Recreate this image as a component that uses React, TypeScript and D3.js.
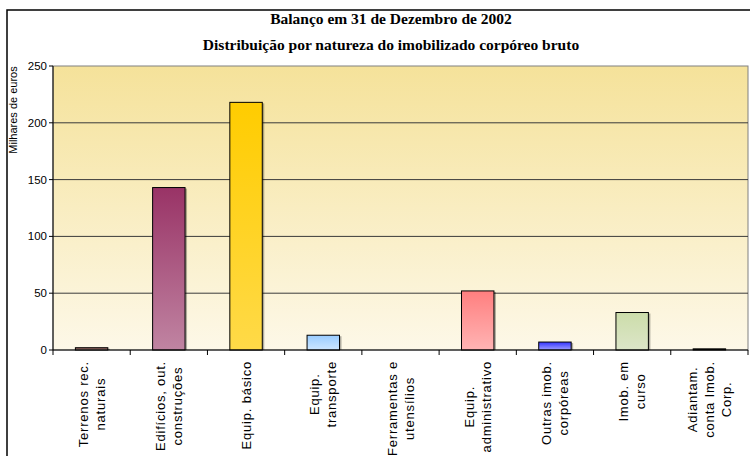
import React from "react";
import * as d3 from "d3";

const categories: string[][] = [
  ["Terrenos rec.", "naturais"],
  ["Edifícios, out.", "construções"],
  ["Equip. básico"],
  ["Equip.", "transporte"],
  ["Ferramentas e", "utensílios"],
  ["Equip.", "administrativo"],
  ["Outras imob.", "corpóreas"],
  ["Imob. em", "curso"],
  ["Adiantam.", "conta Imob.", "Corp."],
];
const values: number[] = [2, 143, 218, 13, 0, 52, 7, 33, 1];
const topColors: string[] = ["#5a1a1a", "#993366", "#FFCC00", "#99CCFF", "#999999", "#FF7F7F", "#3333FF", "#CCDDAA", "#111111"];
const bottomColors: string[] = ["#f5e9e0", "#C084A2", "#FFDA48", "#CDE6FF", "#cccccc", "#FFB4B4", "#A0A0FF", "#DCE5C8", "#333333"];
const yTicks: number[] = [0, 50, 100, 150, 200, 250];
const titleLines: string[] = ["Balanço em 31 de Dezembro de 2002", "Distribuição por natureza do imobilizado corpóreo bruto"];
const yLabel = "Milhares de euros";

const W = 750, H = 456;
const L = 53, R = 748, T = 66, B = 350;
const LABEL_SIZE = 13;
const LS = 0.8;
const LABEL_FONT = `${LABEL_SIZE}px 'Liberation Sans', Arial, sans-serif`;

function measure(text: string): number {
  if (typeof document === "undefined") return text.length * 7;
  const c = document.createElement("canvas").getContext("2d");
  if (!c) return text.length * 7;
  c.font = LABEL_FONT;
  return c.measureText(text).width + text.length * LS;
}

export default function App() {
  const keys = categories.map((_, i) => String(i));
  const x = d3.scaleBand<string>().domain(keys).range([L, R]).paddingInner(0.58).paddingOuter(0.29);
  const xb = d3.scaleBand<string>().domain(keys).range([L, R]).padding(0);
  const y = d3.scaleLinear().domain([0, 250]).range([B, T]);
  const lineH = 17;

  return (
    <svg width={W} height={H} style={{ position: "absolute", left: 0, top: 0 }} xmlns="http://www.w3.org/2000/svg">
      <defs>
        <linearGradient id="bg" x1="0" y1="0" x2="0" y2="1">
          <stop offset="0" stopColor="#F5E29A" />
          <stop offset="1" stopColor="#FDF8E8" />
        </linearGradient>
        {values.map((_, i) => (
          <linearGradient key={i} id={`g${i}`} x1="0" y1="0" x2="0" y2="1">
            <stop offset="0" stopColor={topColors[i]} />
            <stop offset="1" stopColor={bottomColors[i]} />
          </linearGradient>
        ))}
      </defs>
      <rect x={0} y={0} width={W} height={H} fill="#ffffff" />
      <rect x={7} y={10} width={800} height={500} fill="none" stroke="#000" strokeWidth={1.5} />
      {titleLines.map((t, i) => (
        <text key={i} x={391} y={24 + i * 26} textAnchor="middle" fontFamily="'Liberation Serif', 'Times New Roman', serif" fontWeight="bold" fontSize={15.5} fill="#000">
          {t}
        </text>
      ))}
      <rect x={L} y={T} width={R - L} height={B - T} fill="url(#bg)" stroke="#808080" strokeWidth={1} />
      {yTicks.filter((v) => v > 0 && v < 250).map((v) => (
        <line key={v} x1={L} x2={R} y1={y(v)} y2={y(v)} stroke="#3a3a3a" strokeWidth={1} />
      ))}
      {values.map((v, i) => {
        const x0 = x(String(i))!;
        const bw = x.bandwidth();
        if (v <= 0) return null;
        const yt = y(v);
        return (
          <g key={i}>
            <rect x={x0 + 2} y={yt + 1} width={bw} height={B - yt - 1} fill="#000" opacity={0.3} />
            <rect x={x0} y={yt} width={bw} height={B - yt} fill={`url(#g${i})`} stroke="#000" strokeWidth={1} />
          </g>
        );
      })}
      <line x1={L} x2={R} y1={B} y2={B} stroke="#000" strokeWidth={1.2} />
      <line x1={L} x2={L} y1={T} y2={B} stroke="#000" strokeWidth={1} />
      {yTicks.map((v) => (
        <g key={v}>
          <line x1={L - 4} x2={L} y1={y(v)} y2={y(v)} stroke="#000" />
          <text x={L - 6} y={y(v) + 4} textAnchor="end" fontFamily="'Liberation Sans', Arial, sans-serif" fontSize={11.5} fill="#000">
            {v}
          </text>
        </g>
      ))}
      {keys.map((k) => (
        <line key={k} x1={xb(k)!} x2={xb(k)!} y1={B} y2={B + 5} stroke="#000" />
      ))}
      <line x1={R} x2={R} y1={B} y2={B + 5} stroke="#000" />
      <text transform={`translate(17,${110}) rotate(-90)`} textAnchor="middle" fontFamily="'Liberation Sans', Arial, sans-serif" fontSize={11} fill="#000">
        {yLabel}
      </text>
      {categories.map((lines, i) => {
        const cx = xb(String(i))! + xb.bandwidth() / 2;
        const maxW = Math.max(...lines.map(measure));
        const cy = 361 + maxW / 2;
        const n = lines.length;
        return (
          <text key={i} transform={`translate(${cx},${cy}) rotate(-90)`} textAnchor="middle" fontFamily="'Liberation Sans', Arial, sans-serif" fontSize={LABEL_SIZE} letterSpacing={LS} fill="#000">
            {lines.map((ln, j) => (
              <tspan key={j} x={0} y={(j - (n - 1) / 2) * lineH + 4.5}>
                {ln}
              </tspan>
            ))}
          </text>
        );
      })}
    </svg>
  );
}
